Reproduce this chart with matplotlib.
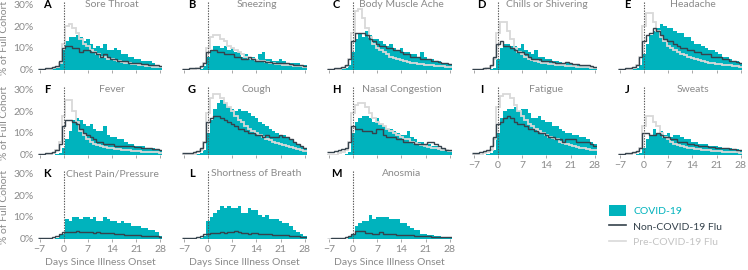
import numpy as np
import matplotlib.pyplot as plt
from matplotlib.patches import Patch
from matplotlib.lines import Line2D

days = np.arange(-7, 29)
edges = np.arange(-7.5, 29.0, 1.0)

titles = ["Sore Throat", "Sneezing", "Body Muscle Ache", "Chills or Shivering", "Headache",
          "Fever", "Cough", "Nasal Congestion", "Fatigue", "Sweats",
          "Chest Pain/Pressure", "Shortness of Breath", "Anosmia"]
letters = list("ABCDEFGHIJKLM")

# % of full cohort per day, days -7..28
covid_A = [0,0,0,0,0.2,0.5,3, 9,13,15,15,16,15,13,14,12,10,11,10,12,9,9,10,9,7,7,6,6,5,5,4,4,4,3,2,1]
flu_A   = [0.3,0.4,0.5,0.7,1,1.5,4, 10,11,11,10,10,8,9,9,8,8,7,6,7,6,5,5,4,4,4,3,3,3,3,2.5,2.5,2,2,2,1.5]
pre_A   = [0,0,0,0.2,0.5,1,3, 12,20,21,19,17,14,12,11,9,8,7,6,6,5,5,4.5,4,3.5,3,3,2.5,2.5,2,2,1.5,1.5,1,1,1]

covid_B = [0,0,0,0,0,0.3,1.5, 6,9,11,11,10,11,9,10,8,8,6,7,6,6,5,7,8,5,5,4,4,5,4,3,3,3,3,2,2]
flu_B   = [0.3,0.4,0.5,0.6,0.8,1.5,3, 8,9,9,8,8,7,7,7,6,6,5,5,6,5,4,4,4,3.5,3.5,3,3,3,3,3,2.5,2,2,2,1.5]
pre_B   = [0,0,0,0.2,0.5,1,3, 10,15,16,16,14,13,11,10,9,8,7,6,5.5,5,4.5,4,4,3.5,3,3,2.5,2.5,2,2,2,1.5,1.5,1.5,1]

covid_C = [0,0,0,0,0.3,0.5,2, 8,14,17,15,18,16,14,14,13,12,11,12,10,9,10,8,8,7,7,6,8,6,5,5,4,4,3,3,2]
flu_C   = [0.3,0.4,0.6,0.8,1,2,5, 13,17,17,17,16,14,13,12,11,11,10,10,9,9,8,7,7,6,6,6,5,5,5,4,4,3.5,3,3,2.5]
pre_C   = [0,0,0,0.2,0.5,1.5,5, 17,27,28,24,19,15,12,10,9,8,7,6,5.5,5,4.5,4,3.5,3,3,2.5,2.5,2,2,2,1.5,1.5,1.5,1,1]

covid_D = [0,0,0,0,0,0.2,0.5, 5,10,12,12,11,11,10,12,9,8,7,9,6,6,5,5,4,4,3.5,3,3,2.5,2.5,2,2,2,1.5,1.5,1]
flu_D   = [0.2,0.3,0.4,0.5,0.8,2,6, 12,13,11,11,10,9,8,8,7,6,5,5,5,4,4,4,3.5,3,3,3,3.5,3,2.5,2.5,2,2,2,1.5,1]
pre_D   = [0,0,0,0.2,0.5,1.5,5, 17,22,22,18,14,10,8,7,6,5,4.5,4,3.5,3,3,2.5,2.5,2,2,2,1.5,1.5,1.5,1,1,1,1,0.8,0.8]

covid_E = [0,0,0,0,0.3,0.5,2, 7,12,16,18,19,21,20,19,19,18,17,17,15,15,13,12,12,11,10,9,9,8,7,6,6,5,4,4,3]
flu_E   = [0.3,0.4,0.6,0.8,1,2,6, 13,16,17,19,18,16,14,13,13,12,11,10,10,9,9,8,8,7,7,7,6,6,6,5,5,4,4,3.5,3]
pre_E   = [0,0,0,0.3,0.6,2,6, 20,26,26,22,18,15,13,11,10,9,8,7,6.5,6,5.5,5,4.5,4,3.5,3,3,2.5,2.5,2,2,2,1.5,1.5,1]

covid_F = [0,0,0,0,0,0.2,0.5, 3,7,11,16,17,16,14,13,14,12,11,11,13,9,8,8,7,7,6,5,5,4,4,4,3,3,3,2,2]
flu_F   = [0.3,0.4,0.5,0.7,1,2,5, 13,16,16,15,14,12,10,9,8,7,6,6,5,5,5,4,4,4,4,4,4,3.5,3.5,3,3,3,2.5,2.5,2]
pre_F   = [0,0,0,0.3,0.6,2,6, 18,25,25,20,15,11,9,7,6,5,4.5,4,3.5,3,3,2.5,2.5,2,2,2,1.5,1.5,1.5,1,1,1,1,1,0.8]

covid_G = [0,0,0,0,0.3,0.5,2, 10,16,21,24,25,24,22,21,20,21,20,20,19,18,17,15,14,13,12,11,10,9,9,8,7,6,5,4,3]
flu_G   = [0.5,0.5,0.7,1,1.5,3,6, 15,17,18,18,17,16,15,14,13,12,12,11,10,10,9,9,8,9,8,8,8,9,8,8,7,6,5,4,3]
pre_G   = [0,0,0,0.3,1,2,6, 19,26,28,28,26,24,22,20,18,16,15,13,12,11,10,9,8,7,6.5,6,5.5,5,4.5,4,3.5,3,2.5,2,1.5]

covid_H = [0,0,0,0,0,0.3,1, 10,15,17,18,18,17,15,17,14,13,12,12,11,10,9,9,11,8,7,6,6,5,5,4,4,3,3,2,2]
flu_H   = [1,1,1.5,2,2.5,3,6, 13,12,12,11,11,11,10,12,12,9,8,8,8,7,7,6,6,6,5,5,5,5,6,6,5,4,3,2,2]
pre_H   = [0,0,0,0.5,1,2,6, 19,23,24,24,22,19,17,15,14,13,12,11,10,9,8,7,7,6,5.5,5,4.5,4,3.5,3,3,2.5,2,2,1.5]

covid_I = [0,0,0,0,0.3,0.5,2, 10,17,20,21,21,22,20,21,21,19,17,17,18,16,15,15,13,13,12,11,10,10,9,9,8,8,7,6,5]
flu_I   = [0.5,0.7,1,1.5,2,4,8, 14,15,17,18,17,15,14,14,13,12,12,11,10,10,9,8,8,7,7,6,7,7,7,6,6,6,6,5,4]
pre_I   = [0,0,0,0.5,1,2,7, 22,27,28,28,26,23,20,18,16,14,13,12,11,10,9,8,7.5,7,6,5.5,5,4.5,4,3.5,3,3,2.5,2,2]

covid_J = [0,0,0,0,0,0.2,0.5, 3,7,9,12,10,11,9,10,8,9,9,8,7,7,6,6,5,5,5,4,4,4,3.5,3,3,3,2.5,2.5,2]
flu_J   = [0.3,0.4,0.5,0.7,1,1.5,3, 10,10,9,9,10,9,8,8,7,7,6,6,6,5,5,4.5,4,4,4,3.5,3.5,3,3,3,3,2.5,2.5,2,2]
pre_J   = [0,0,0,0.3,0.5,1,3, 13,18,18,15,13,10,8,7,6,5,4.5,4,3.5,3,3,2.5,2.5,2,2,2,1.5,1.5,1.5,1,1,1,1,1,0.8]

covid_K = [0,0,0,0,0,0.3,1.5, 2,9,8,10,10,9,10,10,9,10,8,8,10,9,8,8,7,8,7,7,6,6,6,5,5,4,4,3,1]
flu_K   = [0.2,0.2,0.3,0.4,0.6,1,2, 3,3,3,3,3.5,3,3,3,3,2.5,3,2.5,2.5,2.5,2.5,2,2,2,1.5,1.5,1.5,1.5,1.5,1,1,1,1,1,0.8]

covid_L = [0,0,0,0,0,0.3,1, 8,10,12,13,15,14,15,14,14,15,12,12,14,13,13,11,10,11,9,9,9,8,7,7,6,4,3,2,1]
flu_L   = [0.2,0.2,0.3,0.4,0.6,1,2, 2,2.5,2.5,2.5,3,2.5,3,3,3.5,3,2.5,2.5,2,2.5,2.5,2,2,2,2,1.5,1.5,1.5,1.5,1.5,1,1,1,0.8,0.8]

covid_M = [0,0,0,0,0,0,0.5, 2,6,7,8,8,11,9,10,10,10,10,9,9,9,7,7,6,5,4,4,2,2,1.5,1.5,1,1,0.8,0.8,0.5]
flu_M   = [0,0.1,0.1,0.2,0.3,0.5,1, 2,3.5,3.5,3.5,2.5,2.5,2,2,3,2,2,2,2,1.5,1.5,1.5,1.5,1.5,1,1,1,1,1,0.8,0.8,0.8,0.5,0.5,0.5]

covid = [covid_A, covid_B, covid_C, covid_D, covid_E, covid_F, covid_G, covid_H, covid_I, covid_J,
         covid_K, covid_L, covid_M]
flu = [flu_A, flu_B, flu_C, flu_D, flu_E, flu_F, flu_G, flu_H, flu_I, flu_J, flu_K, flu_L, flu_M]
pre = [pre_A, pre_B, pre_C, pre_D, pre_E, pre_F, pre_G, pre_H, pre_I, pre_J]

teal = "#00b3bd"
dark = "#35424c"
light = "#d9d9d9"
gray = "#8a8a8a"

plt.rcParams['font.family'] = ['Lato', 'DejaVu Sans']

fig = plt.figure(figsize=(7.48, 2.7), dpi=100)
W, H = 748.0, 270.0
lefts = [37.8, 182.3, 327.3, 472.3, 618.3]
bottoms = [200, 115, 31]
aw, ah = 124.2, 67.6

for i in range(13):
    r, c = divmod(i, 5)
    ax = fig.add_axes([lefts[c]/W, bottoms[r]/H, aw/W, ah/H])
    ax.stairs(covid[i], edges, fill=True, color=teal, linewidth=0)
    if i < 10:
        ax.stairs(pre[i], edges, baseline=None, color=light, linewidth=1.3)
    ax.stairs(flu[i], edges, baseline=None, color=dark, linewidth=1.0)
    ax.axvline(0, color="#555555", linestyle=(0, (1.2, 1.2)), linewidth=0.8)
    ax.set_xlim(-7.5, 28.5)
    ax.set_ylim(-0.2, 31)
    ax.set_xticks([-7, 0, 7, 14, 21, 28])
    ax.set_xticklabels(["\u22127", "0", "7", "14", "21", "28"])
    ax.set_yticks([0, 10, 20, 30])
    ax.set_yticklabels(["0%", "10%", "20%", "30%"])
    for s in ax.spines.values():
        s.set_visible(False)
    ax.tick_params(axis='x', length=2.5, width=0.6, color="#999999", labelsize=7.5,
                   labelcolor=gray, pad=2)
    ax.tick_params(axis='y', length=0, labelsize=7.5, labelcolor=gray, pad=3)
    if c != 0:
        ax.set_yticklabels([])
    else:
        ax.set_ylabel("% of Full Cohort", fontsize=7.5, color=gray)
        ax.yaxis.set_label_coords(-0.235, 0.48)
    if not (r == 2 or i in (8, 9)):
        ax.set_xticklabels([])
    if r == 2:
        ax.set_xlabel("Days Since Illness Onset", fontsize=7.5, color=gray, labelpad=3)
    ax.text(14, 30, titles[i], ha='center', va='center', fontsize=7.5, color=gray)
    ax.text(0.075, 30, letters[i], transform=ax.get_yaxis_transform(), ha='center',
            va='center', fontsize=8, fontweight='bold', color='black')

handles = [Patch(facecolor=teal, edgecolor='none'),
           Line2D([], [], color=dark, linewidth=1.2),
           Line2D([], [], color=light, linewidth=1.2)]
leg = fig.legend(handles, ["COVID-19", "Non-COVID-19 Flu", "Pre-COVID-19 Flu"],
                 loc='upper left', bbox_to_anchor=(605/W, 1 - 201/H), frameon=False,
                 fontsize=7.5, handlelength=1.6, handleheight=1.2, handletextpad=0.7,
                 labelspacing=0.45, borderaxespad=0)
for t, col in zip(leg.get_texts(), [teal, dark, "#c4c4c4"]):
    t.set_color(col)

fig.savefig("out.png", dpi=100)
